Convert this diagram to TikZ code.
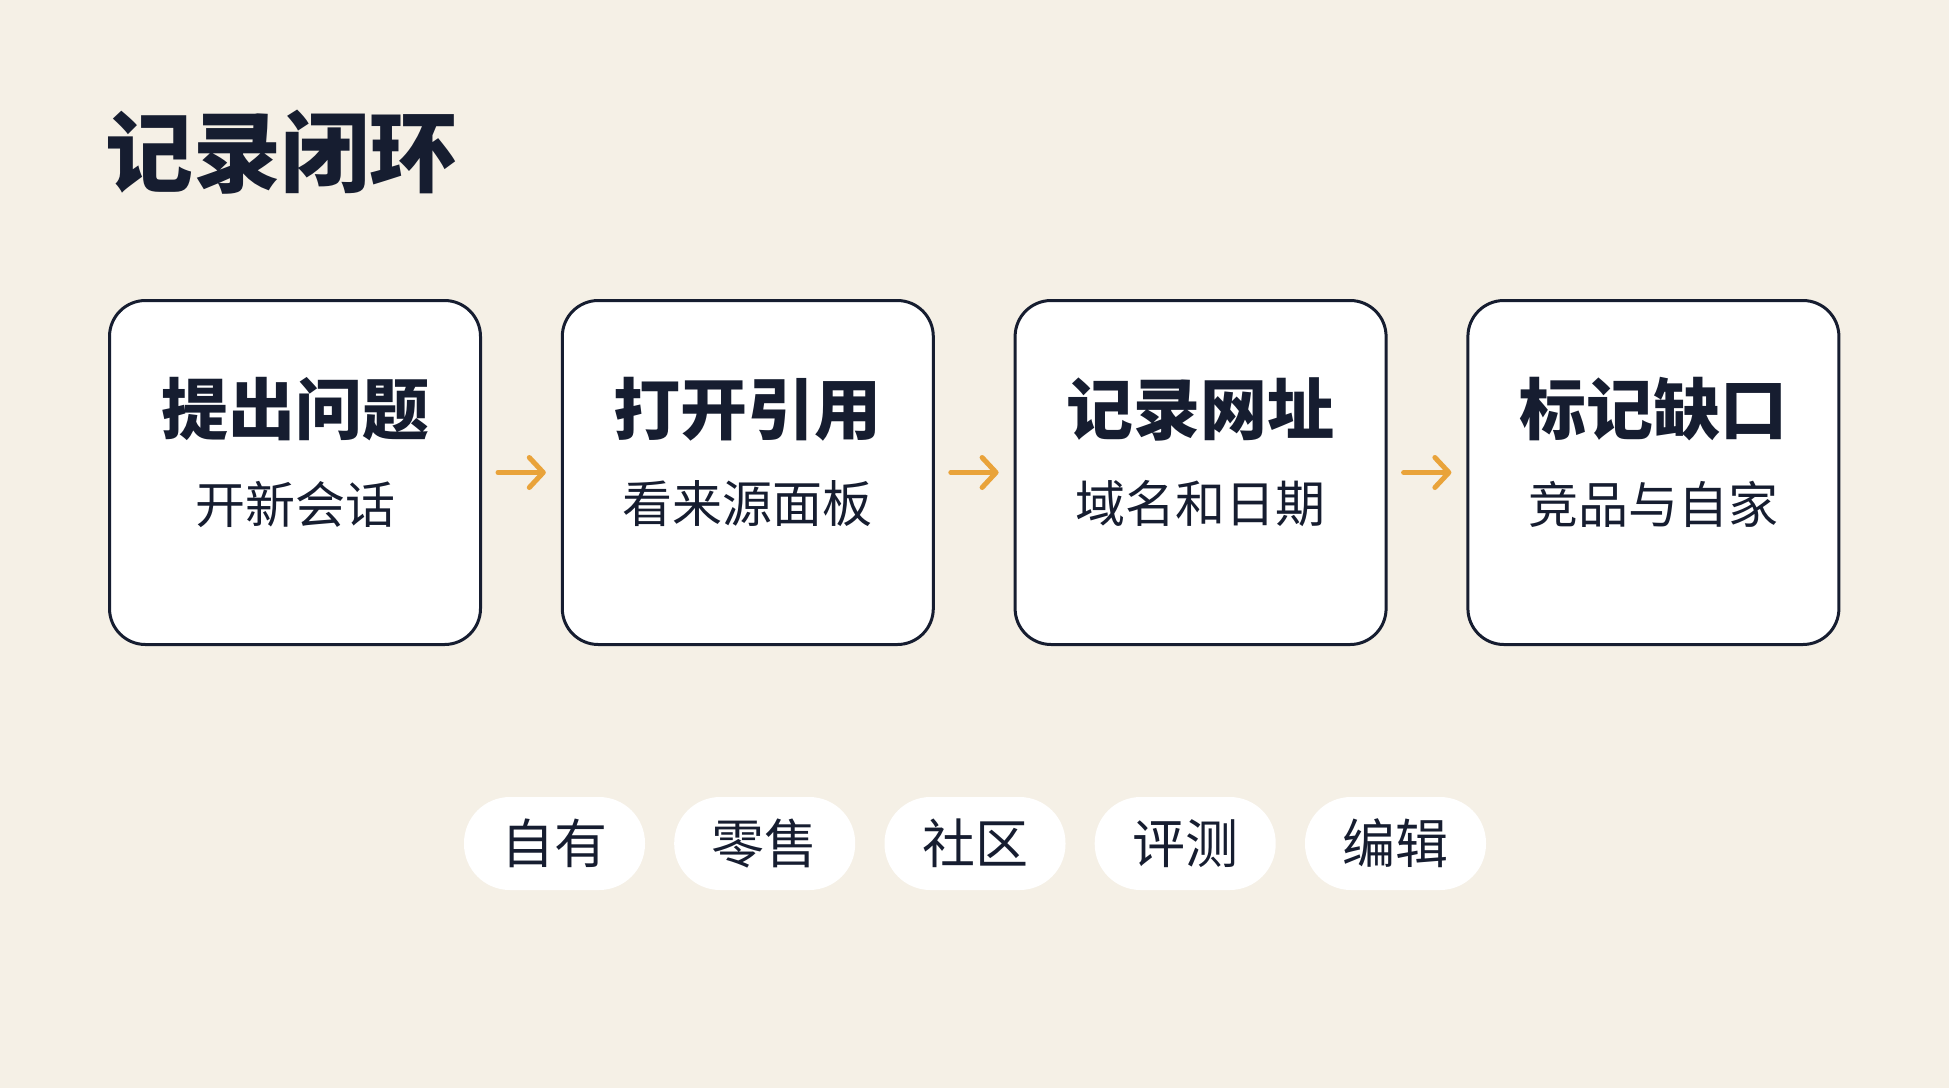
\documentclass[tikz,border=0pt]{standalone}
\usepackage{fontspec}
\setmainfont{Noto Sans CJK SC}
\usetikzlibrary{arrows.meta}
\definecolor{bgc}{RGB}{245,240,230}
\definecolor{navy}{RGB}{22,29,48}
\definecolor{accent}{RGB}{233,163,58}
\tikzset{
  stepbox/.style={draw=navy, line width=3pt, fill=white, rounded corners=36pt,
    minimum width=371pt, minimum height=344pt, inner sep=0pt},
  steptitle/.style={text=navy, inner sep=0pt, font=\fontsize{67}{80}\selectfont\bfseries},
  stepsub/.style={text=navy, inner sep=0pt, font=\fontsize{50}{60}\selectfont},
  pill/.style={fill=white, rounded corners=46pt, minimum width=181pt, minimum height=93pt,
    inner sep=0pt, text=navy, font=\fontsize{53}{60}\selectfont},
  flowarrow/.style={draw=accent, line width=5pt, line cap=round,
    -{Straight Barb[length=14pt, width=30pt, round]},
    shorten <=16pt, shorten >=15pt},
  headline/.style={text=navy, inner sep=0pt, font=\fontsize{88}{100}\selectfont\bfseries}
}
\begin{document}
\begin{tikzpicture}[x=1pt, y=-1pt]
  \fill[bgc] (0,0) rectangle (1949,1088);
  \useasboundingbox (0,0) rectangle (1949,1088);

  \node[headline] (title) at (281.5,152.5) {记录闭环};

  \node[stepbox] (b1) at (295,472.5) {};
  \node[stepbox] (b2) at (747.8,472.5) {};
  \node[stepbox] (b3) at (1200.6,472.5) {};
  \node[stepbox] (b4) at (1653.4,472.5) {};

  \node[steptitle] (t1) at (295,409) {提出问题};
  \node[stepsub]   (s1) at (295,504) {开新会话};
  \node[steptitle] (t2) at (747.8,409) {打开引用};
  \node[stepsub]   (s2) at (747.8,504) {看来源面板};
  \node[steptitle] (t3) at (1200.6,409) {记录网址};
  \node[stepsub]   (s3) at (1200.6,504) {域名和日期};
  \node[steptitle] (t4) at (1653.4,409) {标记缺口};
  \node[stepsub]   (s4) at (1653.4,504) {竞品与自家};

  \draw[flowarrow] (b1) -- (b2);
  \draw[flowarrow] (b2) -- (b3);
  \draw[flowarrow] (b3) -- (b4);

  \node[pill] (p1) at (554.5,843.5) {自有};
  \node[pill] (p2) at (764.7,843.5) {零售};
  \node[pill] (p3) at (975,843.5) {社区};
  \node[pill] (p4) at (1185.2,843.5) {评测};
  \node[pill] (p5) at (1395.5,843.5) {编辑};
\end{tikzpicture}
\end{document}
